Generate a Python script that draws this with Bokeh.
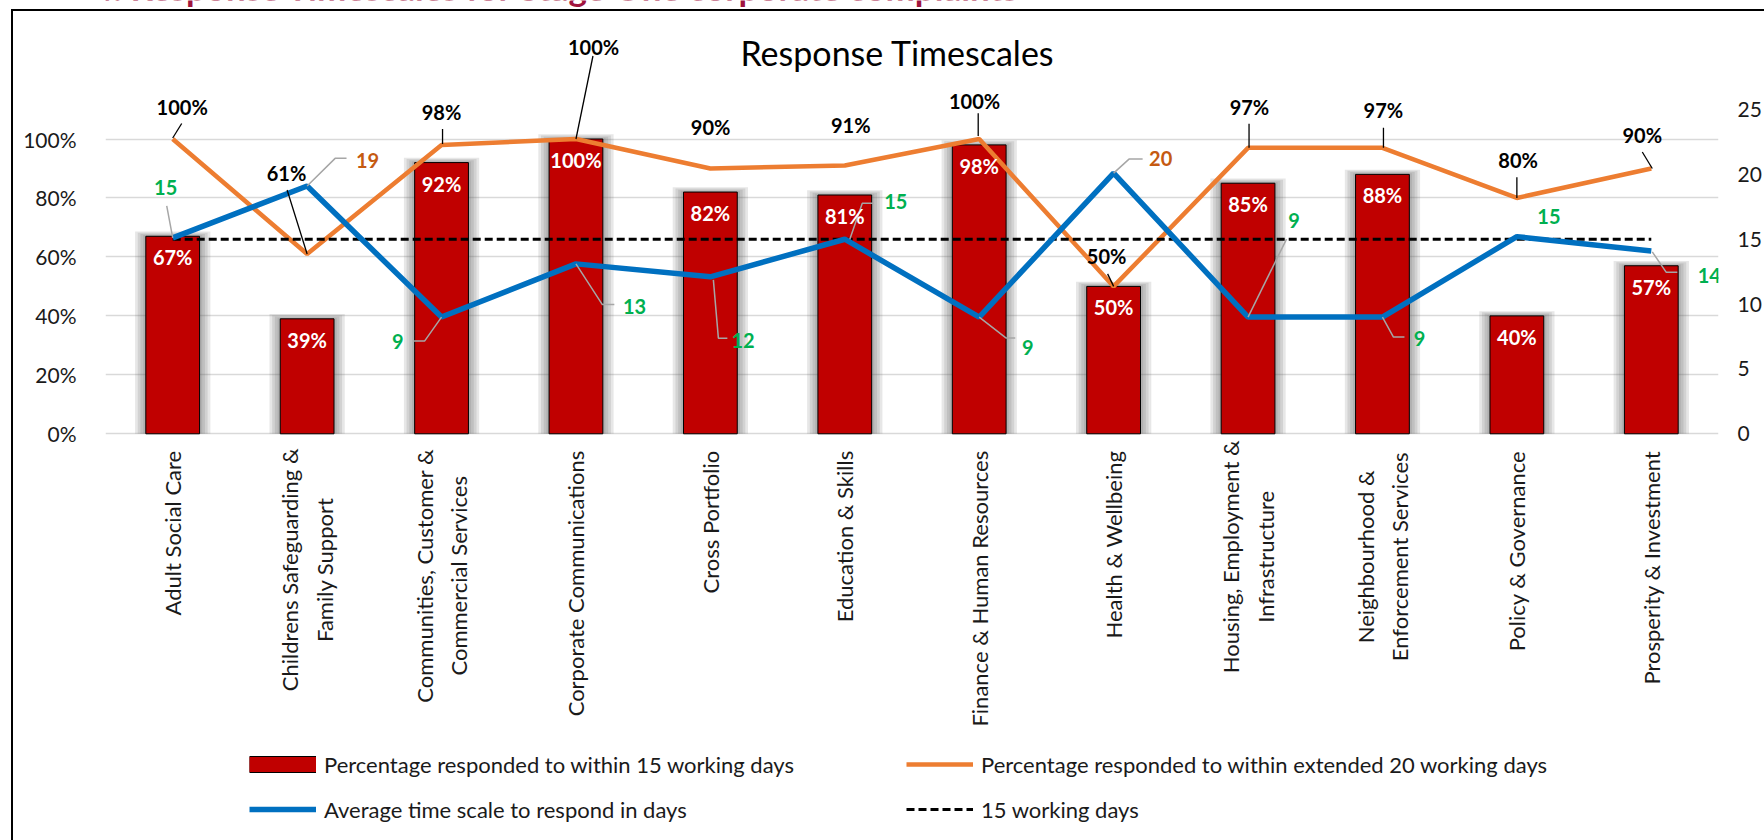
import numpy as np
from math import pi
from bokeh.plotting import figure
from bokeh.models import (FactorRange, Range1d, LinearAxis, FixedTicker, NumeralTickFormatter,
                          ColumnDataSource, Legend, LegendItem, Label, InlineStyleSheet)
from bokeh.core.properties import value
from bokeh.embed import file_html
from bokeh.resources import INLINE

# ---------------- data ----------------
categories = [
    "Adult Social Care",
    "Childrens Safeguarding & Family Support",
    "Communities, Customer & Commercial Services",
    "Corporate Communications",
    "Cross Portfolio",
    "Education & Skills",
    "Finance & Human Resources",
    "Health & Wellbeing",
    "Housing, Employment & Infrastructure",
    "Neighbourhood & Enforcement Services",
    "Policy & Governance",
    "Prosperity & Investment",
]
category_labels = [
    "Adult Social Care",
    "Childrens Safeguarding &\nFamily Support",
    "Communities, Customer &\nCommercial Services",
    "Corporate Communications",
    "Cross Portfolio",
    "Education & Skills",
    "Finance & Human Resources",
    "Health & Wellbeing",
    "Housing, Employment &\nInfrastructure",
    "Neighbourhood &\nEnforcement Services",
    "Policy & Governance",
    "Prosperity & Investment",
]
pct_15_days = [0.67, 0.39, 0.92, 1.00, 0.82, 0.81, 0.98, 0.50, 0.85, 0.88, 0.40, 0.57]
pct_20_days = [1.00, 0.61, 0.98, 1.00, 0.90, 0.91, 1.00, 0.50, 0.97, 0.97, 0.80, 0.90]
avg_days = [15.1, 19.1, 9.0, 13.1, 12.1, 15.0, 9.0, 20.1, 9.0, 9.0, 15.2, 14.1]
target_days = [15] * 12
pct_ticks = [0, 0.2, 0.4, 0.6, 0.8, 1.0]
day_ticks = [0, 5, 10, 15, 20, 25]

heading_text = "Chart 4: Response Timescales for Stage One corporate complaints"
title_text = "Response Timescales"
legend_labels = [
    "Percentage responded to within 15 working days",
    "Percentage responded to within extended 20 working days",
    "Average time scale to respond in days",
    "15 working days",
]

# ---------------- layout / style ----------------
FONT = "Lato"
W, H = 1764, 840
LEFT, RIGHT = 105, 46            # frame borders (px)
ZERO_Y = 433.3                   # page y of the 0 line
PX_PCT = 294.8                   # px per 100 %
PCT_MAX, D_MAX = 1.1, 25         # the two axes share their top
PX_DAY = PX_PCT * PCT_MAX / D_MAX
PX_CAT = (W - LEFT - RIGHT) / len(categories)

RED, ORANGE, BLUE = "#C00000", "#ED7D31", "#0070C0"
GREEN, BROWN = "#00B050", "#C55A11"
TXT = "#1a1a1a"

# label offsets in px (dx right, dy down) relative to the data point
orange_lbl_off = [(9.5, -32), (-20.6, -80.7), (0, -32.5), (17.6, -91.6), (0.2, -41), (6, -41),
                  (-4.6, -38.3), (-7, -30.8), (1.4, -40.5), (0.9, -38), (1.2, -38), (-9, -33)]
orange_leaders = [[(0, -1), (9, -15.5)], [(0, 0), (-20, -64)], [(1, -1), (1, -16)], [(0, 0), (17, -83)],
                  None, None, [(-1, -3), (-1, -25.8)], [(0, 0), (-6, -12.5)], [(1, 0), (1, -24)],
                  [(1, 0), (1, -20)], [(0, 0), (0, -20.6)], [(1, 0), (-9, -16.5)]]
blue_lbl_off = [(-7, -50), (60.4, -26), (-43.7, 24.2), (58.6, 42.4), (32.7, 63.5), (51, -38),
                (48.5, 30), (47, -15), (46, -97), (37, 21), (32, -20), (58, 24.7)]
blue_leaders = [[(0, 0), (-6, -32)], [(0, 0), (28, -27.7), (39.4, -27.7)],
                [(0, 0), (-17, 24), (-28, 24)], [(0, 0), (26.4, 40.7), (38.4, 40.7)],
                [(3, 3), (8, 61.3), (17, 61.3)], [(5, 0), (17.5, -36), (28.8, -36)],
                [(0, 0), (27, 21), (36, 21)], [(0, 0), (15.4, -14), (29, -14)],
                [(0, 0), (38.5, -78)], [(0, 0), (11, 20), (22, 20)], None,
                [(1, 1), (15, 21.4), (26, 21.4)]]
blue_lbl_colors = [GREEN, BROWN, GREEN, GREEN, GREEN, GREEN, GREEN, BROWN, GREEN, GREEN, GREEN, GREEN]
# centre (px below the zero line) of the two-line category labels
multi_label_center = {1: 136, 2: 142, 8: 123, 9: 123}

p = figure(x_range=FactorRange(factors=categories),
           y_range=Range1d(-(H - ZERO_Y) / PX_PCT, ZERO_Y / PX_PCT),
           width=W, height=H, min_border_left=LEFT, min_border_right=RIGHT,
           min_border_top=0, min_border_bottom=0, x_axis_location=None,
           output_backend="svg", toolbar_location=None)
p.outline_line_color = None
p.extra_y_ranges = {"days": Range1d(-(H - ZERO_Y) / PX_DAY, ZERO_Y / PX_DAY)}

# chart-area border (drawn by the page style of the figure)
p.stylesheets = [InlineStyleSheet(css=(
    ":host::after { content: ''; position: absolute; left: 10.5px; top: 9px; right: 0; bottom: 0;"
    " border-left: 2.5px solid #000; border-top: 2.5px solid #000; pointer-events: none; z-index: 50; }"))]

# axes
p.yaxis.ticker = FixedTicker(ticks=pct_ticks)
p.yaxis.formatter = NumeralTickFormatter(format="0%")
raxis = LinearAxis(y_range_name="days", ticker=FixedTicker(ticks=day_ticks))
p.add_layout(raxis, "right")
for ax in [p.yaxis[0], raxis]:
    ax.axis_line_color = None
    ax.major_tick_line_color = None
    ax.minor_tick_line_color = None
    ax.major_label_text_font = FONT
    ax.major_label_text_font_size = "21px"
    ax.major_label_text_color = TXT
p.yaxis[0].major_label_standoff = 23
raxis.major_label_standoff = 13

p.xgrid.grid_line_color = None
p.ygrid.ticker = FixedTicker(ticks=pct_ticks)
p.ygrid.grid_line_color = "#D9D9D9"
p.ygrid.grid_line_width = 1.6

# heading (cut at the top of the page) and chart title
p.add_layout(Label(x=-108, y=H + 14, x_units="screen", y_units="screen", text=heading_text,
                   text_font=FONT, text_font_size="35px", text_font_style="bold",
                   text_align="left", text_baseline="alphabetic", text_color="#A0153E"))
p.add_layout(Label(x=897 - LEFT, y=H - 52, x_units="screen", y_units="screen", text=title_text,
                   text_font=FONT, text_font_size="34px", text_align="center",
                   text_baseline="middle", text_color="black"))

# bar shadows
for k in range(1, 5):
    p.vbar(x=categories, top=[v + 0.004 * k for v in pct_15_days], width=0.40 + 0.04 * k,
           fill_color="#5f5f5f", fill_alpha=0.15, line_color=None)

src = ColumnDataSource(dict(cat=categories, p15=pct_15_days, p20=pct_20_days, days=avg_days,
                            target=target_days))
bars = p.vbar(x="cat", top="p15", width=0.40, source=src, fill_color=RED,
              line_color="black", line_width=1)
orange = p.line(x="cat", y="p20", source=src, line_color=ORANGE, line_width=4.5)
target = p.line(x="cat", y="target", source=src, y_range_name="days", line_color="black",
                line_width=3, line_dash="8 4")
blue = p.line(x="cat", y="days", source=src, y_range_name="days", line_color=BLUE, line_width=5.5)

# legend swatch for the bars (full glyph width, with outline)
sw_edge = p.line(x=[categories[0]], y=[float("nan")], line_color="black", line_width=17)
sw_fill = p.line(x=[categories[0]], y=[float("nan")], line_color=RED, line_width=15)

# leader lines
def leaders(vals, offs, px_y):
    xs, ys = [], []
    for i, (v, o) in enumerate(zip(vals, offs)):
        if o is None:
            continue
        xs.append([i + 0.5 + dx / PX_CAT for dx, dy in o])
        ys.append([v - dy / px_y for dx, dy in o])
    return xs, ys

oxs, oys = leaders(pct_20_days, orange_leaders, PX_PCT)
p.multi_line(xs=oxs, ys=oys, line_color="black", line_width=1.3)
bxs, bys = leaders(avg_days, blue_leaders, PX_DAY)
p.multi_line(xs=bxs, ys=bys, line_color="#A6A6A6", line_width=1.5, y_range_name="days")

# data labels
bold = dict(text_font=value(FONT), text_font_style="bold", text_font_size="20px",
            text_align="center", text_baseline="middle")
bar_src = ColumnDataSource(dict(x=categories, y=pct_15_days,
                                t=[f"{round(v * 100)}%" for v in pct_15_days]))
p.text(x="x", y="y", text="t", source=bar_src, y_offset=21, text_color="white", **bold)

or_src = ColumnDataSource(dict(x=categories, y=pct_20_days,
                               t=[f"{round(v * 100)}%" for v in pct_20_days],
                               dx=[o[0] for o in orange_lbl_off], dy=[o[1] for o in orange_lbl_off]))
p.text(x="x", y="y", text="t", source=or_src, x_offset="dx", y_offset="dy", text_color="black", **bold)

bl_src = ColumnDataSource(dict(x=categories, y=avg_days, t=[f"{round(v)}" for v in avg_days],
                               dx=[o[0] for o in blue_lbl_off], dy=[o[1] for o in blue_lbl_off],
                               c=blue_lbl_colors))
p.text(x="x", y="y", text="t", source=bl_src, x_offset="dx", y_offset="dy", text_color="c",
       y_range_name="days", **bold)

# category labels (vertical, under the zero line)
single = [i for i in range(len(categories)) if i not in multi_label_center]
multi = [i for i in range(len(categories)) if i in multi_label_center]
cat_font = dict(text_font=value(FONT), text_font_size="22px", text_color=TXT, angle=pi / 2)
p.text(x=[categories[i] for i in single], y=[0] * len(single),
       text=[category_labels[i] for i in single], y_offset=17,
       text_align="right", text_baseline="middle", **cat_font)
p.text(x=[categories[i] for i in multi], y=[0] * len(multi),
       text=[category_labels[i] for i in multi], y_offset=[multi_label_center[i] for i in multi],
       text_align="center", text_baseline="middle", text_line_height=1.28, **cat_font)

# legends
def make_legend(items, loc):
    lg = Legend(items=items, location=loc, orientation="vertical")
    lg.label_text_font = FONT
    lg.label_text_font_size = "22px"
    lg.label_text_color = TXT
    lg.glyph_width = 67
    lg.glyph_height = 20
    lg.label_height = 20
    lg.spacing = 18
    lg.padding = 0
    lg.margin = 0
    lg.label_standoff = 8
    lg.border_line_color = None
    lg.background_fill_alpha = 0
    return lg

p.add_layout(make_legend([LegendItem(label=legend_labels[0], renderers=[sw_edge, sw_fill]),
                          LegendItem(label=legend_labels[2], renderers=[blue])], (249 - LEFT, 17.5)))
p.add_layout(make_legend([LegendItem(label=legend_labels[1], renderers=[orange]),
                          LegendItem(label=legend_labels[3], renderers=[target])], (906 - LEFT, 17.5)))

open("out.html", "w").write(file_html(p, INLINE))
